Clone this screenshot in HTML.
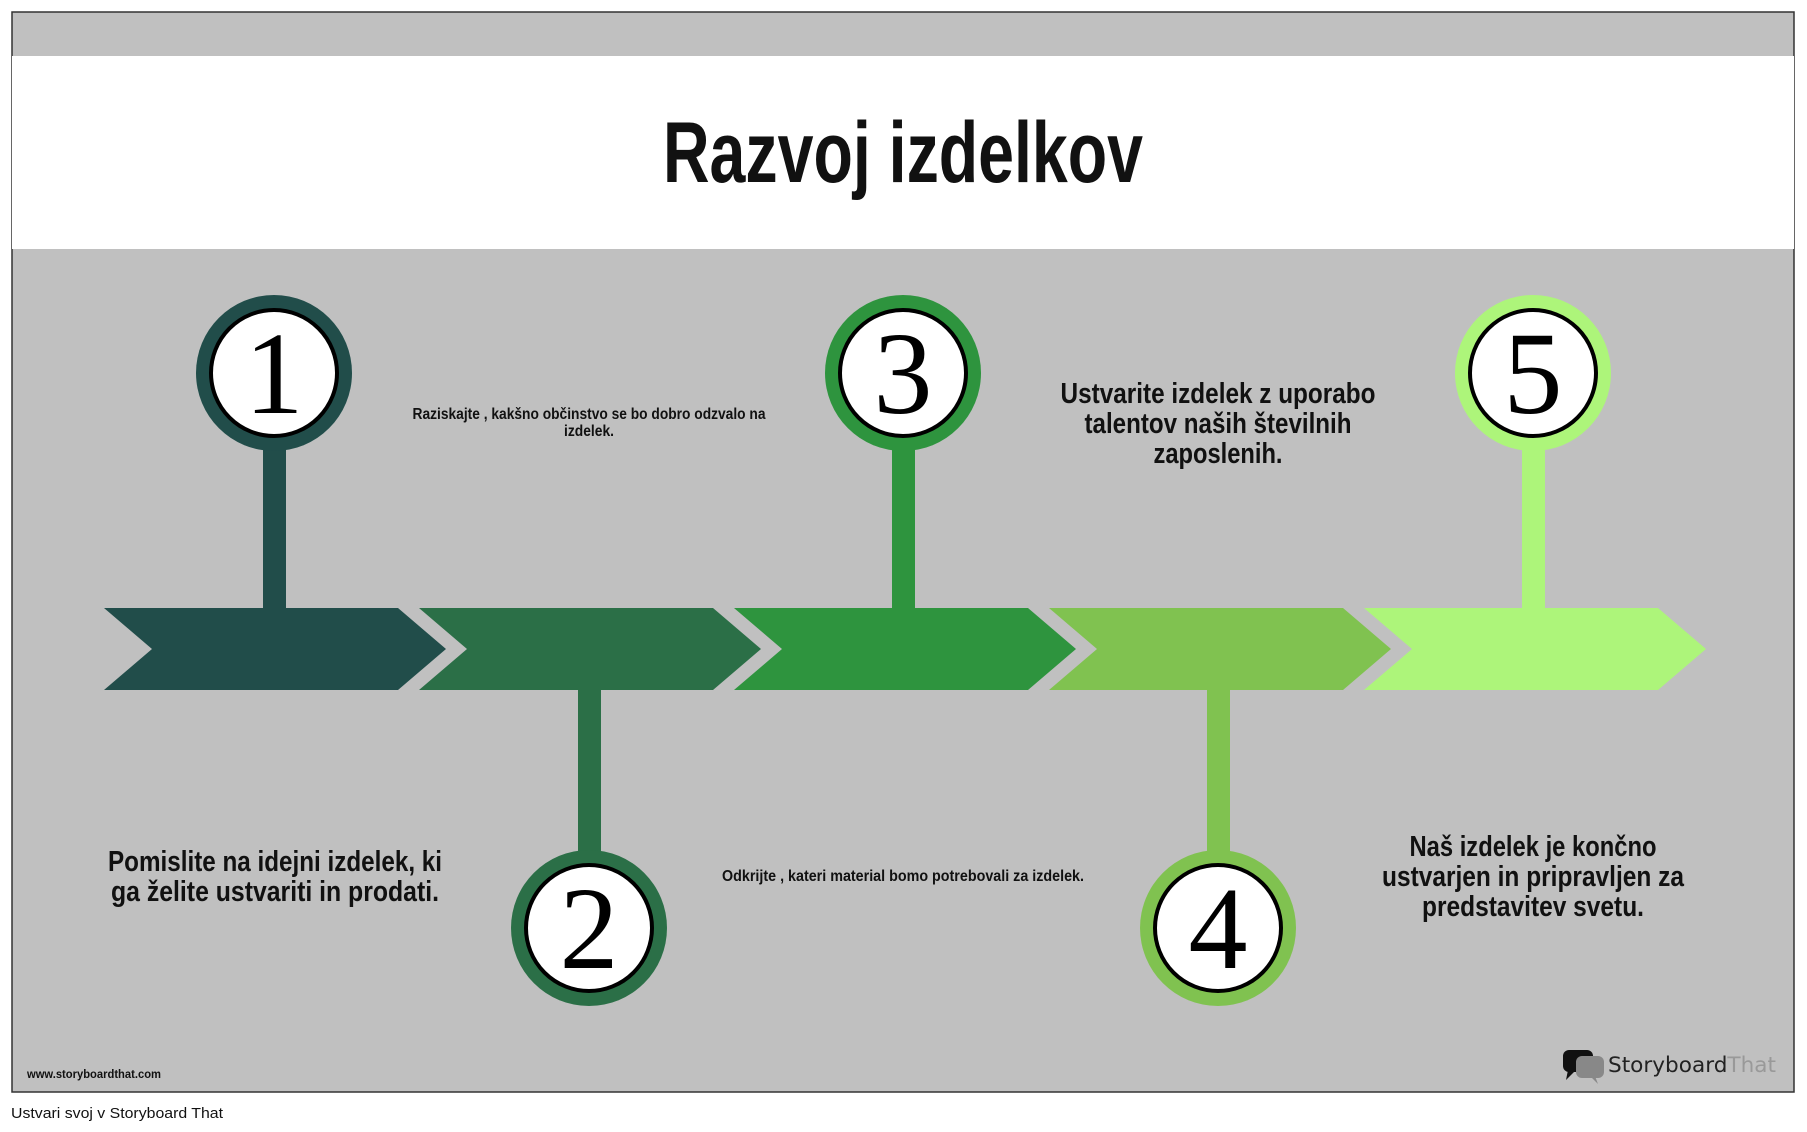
<!DOCTYPE html>
<html><head><meta charset="utf-8"><style>
body{margin:0;width:1807px;height:1132px;background:#fff;overflow:hidden}
svg{position:absolute;left:0;top:0}
.c{font-family:"Liberation Sans",sans-serif;font-weight:bold;fill:#111}
</style></head><body>
<svg width="1807" height="1132" viewBox="0 0 1807 1132">
<rect x="12" y="12" width="1782" height="1080" fill="#c0c0c0" stroke="#333" stroke-width="1.5"/>
<rect x="12" y="56" width="1782" height="193" fill="#fff"/>
<text x="903" y="182" text-anchor="middle" class="c" font-size="86" fill="#000" textLength="480" lengthAdjust="spacingAndGlyphs">Razvoj izdelkov</text>
<g>
<polygon points="104,608 398,608 446,649 398,690 104,690 152,649" fill="#214d4a"/>
<polygon points="419,608 713,608 761,649 713,690 419,690 467,649" fill="#2b6f47"/>
<polygon points="734,608 1028,608 1076,649 1028,690 734,690 782,649" fill="#2e943e"/>
<polygon points="1049,608 1343,608 1391,649 1343,690 1049,690 1097,649" fill="#80c250"/>
<polygon points="1364,608 1658,608 1706,649 1658,690 1364,690 1412,649" fill="#adf57a"/>
</g>
<rect x="263" y="440" width="23" height="170" fill="#214d4a"/>
<rect x="578" y="688" width="23" height="170" fill="#2b6f47"/>
<rect x="892" y="440" width="23" height="170" fill="#2e943e"/>
<rect x="1207" y="688" width="23" height="170" fill="#80c250"/>
<rect x="1522" y="440" width="23" height="170" fill="#adf57a"/>
<g font-family="Liberation Serif,serif" font-size="118" text-anchor="middle" fill="#000">
<circle cx="274" cy="373" r="78" fill="#214d4a"/><circle cx="274" cy="373" r="63" fill="#fff" stroke="#000" stroke-width="4"/><text x="274" y="413">1</text>
<circle cx="589" cy="928" r="78" fill="#2b6f47"/><circle cx="589" cy="928" r="63" fill="#fff" stroke="#000" stroke-width="4"/><text x="589" y="968">2</text>
<circle cx="903" cy="373" r="78" fill="#2e943e"/><circle cx="903" cy="373" r="63" fill="#fff" stroke="#000" stroke-width="4"/><text x="903" y="413">3</text>
<circle cx="1218" cy="928" r="78" fill="#80c250"/><circle cx="1218" cy="928" r="63" fill="#fff" stroke="#000" stroke-width="4"/><text x="1218" y="968">4</text>
<circle cx="1533" cy="373" r="78" fill="#adf57a"/><circle cx="1533" cy="373" r="63" fill="#fff" stroke="#000" stroke-width="4"/><text x="1533" y="413">5</text>
</g>
<g class="c" text-anchor="middle" lengthAdjust="spacingAndGlyphs">
<text x="589" y="419" font-size="16" textLength="353" lengthAdjust="spacingAndGlyphs">Raziskajte , kakšno občinstvo se bo dobro odzvalo na</text>
<text x="589" y="436" font-size="16" textLength="50" lengthAdjust="spacingAndGlyphs">izdelek.</text>
<text x="903" y="881" font-size="16" textLength="362" lengthAdjust="spacingAndGlyphs">Odkrijte , kateri material bomo potrebovali za izdelek.</text>
<text x="1218" y="403" font-size="29" textLength="315" lengthAdjust="spacingAndGlyphs">Ustvarite izdelek z uporabo</text>
<text x="1218" y="433" font-size="29" textLength="267" lengthAdjust="spacingAndGlyphs">talentov naših številnih</text>
<text x="1218" y="463" font-size="29" textLength="129" lengthAdjust="spacingAndGlyphs">zaposlenih.</text>
<text x="275" y="871" font-size="29" textLength="334" lengthAdjust="spacingAndGlyphs">Pomislite na idejni izdelek, ki</text>
<text x="275" y="901" font-size="29" textLength="328" lengthAdjust="spacingAndGlyphs">ga želite ustvariti in prodati.</text>
<text x="1533" y="856" font-size="29" textLength="247" lengthAdjust="spacingAndGlyphs">Naš izdelek je končno</text>
<text x="1533" y="886" font-size="29" textLength="302" lengthAdjust="spacingAndGlyphs">ustvarjen in pripravljen za</text>
<text x="1533" y="916" font-size="29" textLength="222" lengthAdjust="spacingAndGlyphs">predstavitev svetu.</text>
</g>
<text x="27" y="1078" class="c" font-size="12" textLength="134" lengthAdjust="spacingAndGlyphs">www.storyboardthat.com</text>
<text x="11" y="1118" font-family="Liberation Sans,sans-serif" font-size="15" fill="#111" textLength="212" lengthAdjust="spacingAndGlyphs">Ustvari svoj v Storyboard That</text>
<g>
<rect x="1563" y="1050" width="30" height="22" rx="6" fill="#111"/>
<polygon points="1568,1070 1566,1080 1576,1070" fill="#111"/>
<rect x="1576" y="1056" width="28" height="22" rx="6" fill="#888"/>
<polygon points="1595,1076 1598,1084 1590,1076" fill="#888"/>
<text x="1608" y="1072" font-family="DejaVu Sans,sans-serif" font-size="21" fill="#222" textLength="168" lengthAdjust="spacingAndGlyphs">Storyboard<tspan fill="#999">That</tspan></text>
</g>
</svg>
</body></html>
